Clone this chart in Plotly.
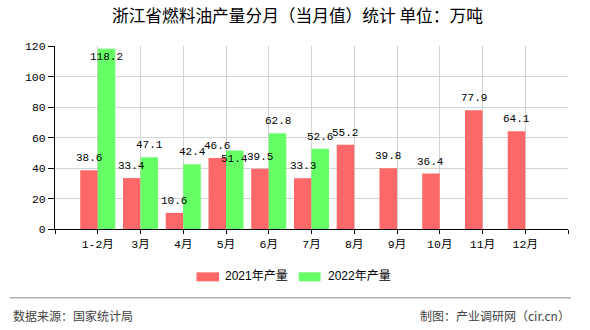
import plotly.graph_objects as go

# ---- data ----
categories = ["1-2月", "3月", "4月", "5月", "6月", "7月", "8月", "9月", "10月", "11月", "12月"]
values_2021 = [38.6, 33.4, 10.6, 46.6, 39.5, 33.3, 55.2, 39.8, 36.4, 77.9, 64.1]
values_2022 = [118.2, 47.1, 42.4, 51.4, 62.8, 52.6, None, None, None, None, None]
series_names = ["2021年产量", "2022年产量"]
y_ticks = [0, 20, 40, 60, 80, 100, 120]

title_text = "浙江省燃料油产量分月（当月值）统计 单位：万吨"
source_text = "数据来源：国家统计局"
credit_text = "制图：产业调研网（cir.cn）"

RED = "#FF6868"
GREEN = "#66FF66"

# ---- geometry (pixels) ----
W, H = 590, 330
PL, PR, PT, PB = 55.3, 568.0, 46.0, 229.3
YMAX = 120
ppu = (PB - PT) / YMAX  # pixels per unit
BARGAP = 0.18
half_w = (1 - BARGAP) / 2  # width of one bar in category units

idx = list(range(len(categories)))

def paper_x(px):
    return (px - PL) / (PR - PL)

def paper_y(py):
    return (PB - py) / (PB - PT)

fig = go.Figure()
fig.add_trace(go.Bar(x=idx, y=values_2021, name=series_names[0],
                     marker=dict(color=RED, line=dict(width=0)), showlegend=False,
                     hoverinfo="y"))
fig.add_trace(go.Bar(x=idx, y=values_2022, name=series_names[1],
                     marker=dict(color=GREEN, line=dict(width=0)), showlegend=False,
                     hoverinfo="y"))

# ---- value labels (placed above bars, kept in plot, avoid overlap) ----
label_font = dict(family="Liberation Mono, DejaVu Sans Mono, monospace", size=11, color="#000")
off_u = 12 / ppu
max_label = (PB - 57) / ppu
annotations = []
for i, (a, b) in enumerate(zip(values_2021, values_2022)):
    ya = min(a + off_u, max_label)
    annotations.append(dict(x=i - half_w / 2, y=ya, xref="x", yref="y", text=f"{a}",
                            showarrow=False, font=label_font, yanchor="middle"))
    if b is not None:
        yb = min(b + off_u, max_label)
        if abs(yb - ya) < 12 / ppu:
            yb = ya - 13 / ppu
        annotations.append(dict(x=i + half_w / 2, y=yb, xref="x", yref="y", text=f"{b}",
                                showarrow=False, font=label_font, yanchor="middle"))

# ---- title ----
annotations.append(dict(x=paper_x(297.5), y=paper_y(15), xref="paper", yref="paper",
                        text=title_text, showarrow=False, xanchor="center", yanchor="middle",
                        font=dict(family="Noto Sans CJK SC", size=16.7, color="#000")))

# ---- legend (custom) ----
legend_font = dict(family="Liberation Sans, Noto Sans CJK SC", size=12, color="#000")
shapes = []
leg_items = [(196.7, 219.3, 223.3, RED, series_names[0]),
             (299.0, 320.7, 326.0, GREEN, series_names[1])]
for x0, x1, tx, col, name in leg_items:
    shapes.append(dict(type="rect", xref="paper", yref="paper",
                       x0=paper_x(x0), x1=paper_x(x1), y0=paper_y(281.7), y1=paper_y(272.7),
                       fillcolor=col, line=dict(width=0)))
    annotations.append(dict(x=paper_x(tx), y=paper_y(276.7), xref="paper", yref="paper",
                            text=name, showarrow=False, xanchor="left", yanchor="middle",
                            font=legend_font))

# ---- footer ----
shapes.append(dict(type="line", xref="paper", yref="paper",
                   x0=paper_x(10), x1=paper_x(571), y0=paper_y(298.3), y1=paper_y(298.3),
                   line=dict(color="#888888", width=1)))
footer_font = dict(family="Noto Sans CJK SC", size=12, color="#444")
annotations.append(dict(x=paper_x(11), y=paper_y(316), xref="paper", yref="paper",
                        text=source_text, showarrow=False, xanchor="left", yanchor="middle",
                        font=footer_font))
annotations.append(dict(x=paper_x(572), y=paper_y(316), xref="paper", yref="paper",
                        text=credit_text, showarrow=False, xanchor="right", yanchor="middle",
                        font=footer_font))

tick_font = dict(family="Liberation Mono, Noto Sans CJK SC", size=11.5, color="#000")

fig.update_layout(
    width=W, height=H,
    margin=dict(l=PL, r=W - PR, t=PT, b=H - PB, autoexpand=False),
    paper_bgcolor="white", plot_bgcolor="white",
    barmode="group", bargap=BARGAP, bargroupgap=0,
    annotations=annotations, shapes=shapes,
    showlegend=False,
    xaxis=dict(range=[-1, 11], tickmode="array",
               tickvals=list(range(-1, len(categories) + 1)),
               ticktext=[""] + categories + [""],
               showgrid=True, gridcolor="#d3d3d3", gridwidth=1,
               showline=True, linecolor="#000", linewidth=1,
               ticks="outside", ticklen=4, tickcolor="#000",
               tickfont=tick_font, zeroline=False, fixedrange=True),
    yaxis=dict(range=[0, YMAX], tickmode="array", tickvals=y_ticks,
               showgrid=True, gridcolor="#d3d3d3", gridwidth=1,
               showline=True, linecolor="#000", linewidth=1,
               ticks="outside", ticklen=6, tickcolor="#000",
               tickfont=tick_font, zeroline=False, fixedrange=True),
)

fig.write_html("out.html", config={"displayModeBar": False})
